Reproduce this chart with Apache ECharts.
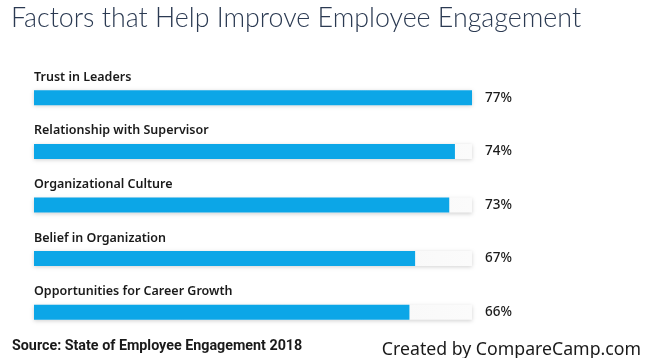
<!DOCTYPE html>
<html><head><meta charset="utf-8">
<script src="https://cdn.jsdelivr.net/npm/echarts@6/dist/echarts.min.js"></script>
<style>html,body{margin:0;padding:0;background:#fff}#c{width:650px;height:358px}</style>
</head><body><div id="c"></div>
<script>
const categories = ["Trust in Leaders","Relationship with Supervisor","Organizational Culture","Belief in Organization","Opportunities for Career Growth"];
const values = [77,74,73,67,66];
const trackMax = 77;
const chart = echarts.init(document.getElementById('c'));
chart.setOption({
  animation:false,
  title:[
    {text:"Factors that Help Improve Employee Engagement",left:6,top:0,textStyle:{fontFamily:"Lato",fontWeight:300,fontSize:26.8,color:"#2b3a52"}},
    {text:"Source: State of Employee Engagement 2018",left:7,top:334,textStyle:{fontFamily:"Roboto",fontWeight:"bold",fontSize:14.3,color:"#1a1a1a"}},
    {text:"Created by CompareCamp.com",right:4,top:336,textStyle:{fontFamily:"Noto Sans",fontWeight:"normal",fontSize:17.7,color:"#1a1a1a"}}
  ],
  grid:{left:34,right:178,top:71,height:268},
  xAxis:{type:'value',min:0,max:trackMax,show:false},
  yAxis:{type:'category',data:categories,inverse:true,show:false},
  series:[
    {type:'bar',barWidth:15,silent:true,data:categories.map(()=>trackMax),
     itemStyle:{color:new echarts.graphic.LinearGradient(0,0,1,0,[{offset:0,color:'#eeeeee'},{offset:1,color:'#fbfbfb'}]),shadowBlur:4,shadowColor:'rgba(0,0,0,0.18)',shadowOffsetY:1},
     label:{show:true,position:'right',distance:13,formatter:p=>values[p.dataIndex]+'%',fontFamily:'Noto Sans',fontSize:13.5,color:'#1a1a1a',fontWeight:500}},
    {type:'bar',barWidth:15,barGap:'-100%',data:values,
     itemStyle:{color:'#0ca6e7'},
     label:{show:true,position:[0,-13],align:'left',verticalAlign:'middle',formatter:p=>p.name,fontFamily:'Noto Sans',fontSize:12.5,color:'#1a1a1a',fontWeight:600}}
  ]
});
</script></body></html>
